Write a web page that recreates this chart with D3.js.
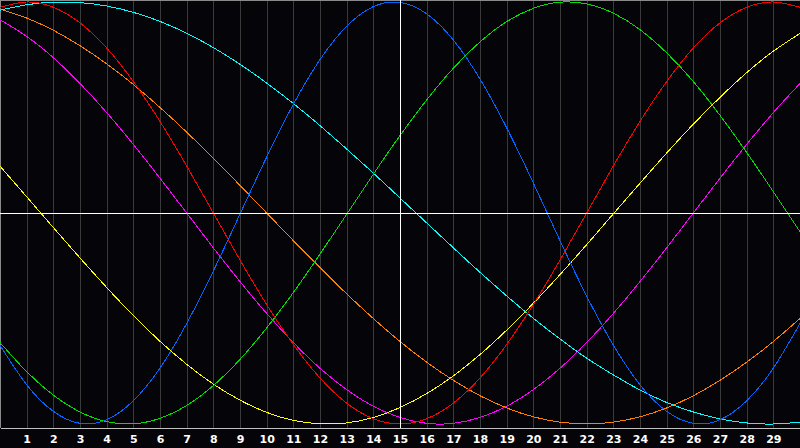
<!DOCTYPE html>
<html>
<head>
<meta charset="utf-8">
<script src="https://cdn.jsdelivr.net/npm/d3@7"></script>
<style>
  html, body { margin: 0; padding: 0; background: #050408; }
  svg { display: block; }
  .tick text { fill: #fff; font-family: "DejaVu Sans", Verdana, sans-serif; font-weight: bold; font-size: 11px; }
</style>
</head>
<body>
<script>
// days shown on the chart
const days = d3.range(0, 31)
const dayLabels = d3.range(1, 30)

// curve values per day (-100 .. 100)
const blue    = [-62.7,-81.4,-94.0,-99.7,-98.0,-89.0,-73.5,-52.4,-27.5,-0.5,26.5,51.5,72.7,88.5,97.8,99.8,94.4,82.0,63.5,40.4,14.2,-13.1,-39.4,-62.6,-81.4,-94.0,-99.7,-98.0,-89.0,-73.5,-52.4]
const red     = [97.5,100,97.5,90.1,78.2,62.3,43.4,22.3,0,-22.3,-43.4,-62.3,-78.2,-90.1,-97.5,-100,-97.5,-90.1,-78.2,-62.3,-43.4,-22.3,0,22.3,43.4,62.3,78.2,90.1,97.5,100,97.5]
const green   = [-61.4,-75.2,-86.3,-94.3,-98.9,-99.9,-97.3,-91.2,-81.8,-69.4,-54.5,-37.7,-19.5,-0.6,18.4,36.7,53.6,68.6,81.1,90.7,97.0,99.9,99.1,94.7,86.9,75.9,62.3,46.3,28.7,10.1,-8.9]
const magenta = [91.6,83.7,73.6,61.4,47.6,32.5,16.5,0,-16.5,-32.5,-47.6,-61.4,-73.6,-83.7,-91.6,-96.9,-99.7,-99.7,-96.9,-91.6,-83.7,-73.6,-61.4,-47.6,-32.5,-16.5,0,16.5,32.5,47.6,61.4]
const yellow  = [22.2,7.7,-6.9,-21.3,-35.3,-48.6,-60.8,-71.7,-81.1,-88.7,-94.5,-98.3,-99.9,-99.5,-96.9,-92.2,-85.6,-77.2,-67.1,-55.5,-42.8,-29.2,-15.0,-0.4,14.1,28.4,42.1,54.8,66.5,76.7,85.1]
const orange  = [96.6,92.4,86.6,79.3,70.7,60.9,50.0,38.3,25.9,13.1,0,-13.1,-25.9,-38.3,-50.0,-60.9,-70.7,-79.3,-86.6,-92.4,-96.6,-99.1,-100,-99.1,-96.6,-92.4,-86.6,-79.3,-70.7,-60.9,-50.0]
const cyan    = [96.1,98.7,99.9,99.7,98.1,95.1,90.8,85.2,78.4,70.5,61.6,51.9,41.4,30.3,18.9,7.1,-4.7,-16.5,-28.1,-39.3,-49.9,-59.7,-68.8,-76.7,-83.9,-89.8,-94.3,-97.6,-99.5,-100,-99.1]

const series = [
  { values: orange,  color: '#ff8000' },
  { values: magenta, color: '#ff00ff' },
  { values: yellow,  color: '#ffff00' },
  { values: cyan,    color: '#00ffff' },
  { values: green,   color: '#00e000' },
  { values: red,     color: '#ff0000' },
  { values: blue,    color: '#0066ff' }
]

let w = 800,
    h = 448,
    plotBottom = 428,
    today = 15

let svg = d3.select('body').append('svg')
    .attr('width', w)
    .attr('height', h)

svg.append('rect')
    .attr('width', w)
    .attr('height', h)
    .attr('fill', '#050408')

let x = d3.scaleLinear().domain([0, 30]).range([0, w])
let y = d3.scaleLinear().domain([-100, 100]).range([424, 2])

// vertical day grid
svg.append('g')
    .selectAll('line')
    .data(dayLabels)
    .enter()
    .append('line')
    .attr('x1', d => Math.round(x(d)) + 0.5)
    .attr('x2', d => Math.round(x(d)) + 0.5)
    .attr('y1', 0)
    .attr('y2', plotBottom)
    .attr('stroke', '#3a3a3a')
    .attr('shape-rendering', 'crispEdges')

// frame
svg.append('line')
    .attr('x1', 0).attr('x2', w).attr('y1', 0.5).attr('y2', 0.5)
    .attr('stroke', '#8a8a8a').attr('shape-rendering', 'crispEdges')
svg.append('line')
    .attr('x1', 0.5).attr('x2', 0.5).attr('y1', 0).attr('y2', plotBottom)
    .attr('stroke', '#8a8a8a').attr('shape-rendering', 'crispEdges')

// curves
let line = d3.line()
    .x((d, i) => x(days[i]))
    .y(d => y(d))
    .curve(d3.curveNatural)

svg.append('g')
    .selectAll('path')
    .data(series)
    .enter()
    .append('path')
    .attr('d', d => line(d.values))
    .attr('fill', 'none')
    .attr('stroke', d => d.color)
    .attr('stroke-width', 1)
    .attr('shape-rendering', 'crispEdges')

// crosshair: zero line and today
svg.append('line')
    .attr('x1', 0).attr('x2', w)
    .attr('y1', Math.round(y(0)) + 0.5).attr('y2', Math.round(y(0)) + 0.5)
    .attr('stroke', '#fff').attr('shape-rendering', 'crispEdges')
svg.append('line')
    .attr('x1', Math.round(x(today)) + 0.5).attr('x2', Math.round(x(today)) + 0.5)
    .attr('y1', 0).attr('y2', plotBottom)
    .attr('stroke', '#fff').attr('shape-rendering', 'crispEdges')

// bottom axis with day numbers
let axis = svg.append('g')
    .attr('transform', 'translate(0,' + plotBottom + ')')
    .call(d3.axisBottom(x).tickValues(dayLabels).tickSize(0).tickPadding(7).tickFormat(d3.format('d')))

axis.select('.domain')
    .attr('stroke', '#c0c0c0')
    .attr('shape-rendering', 'crispEdges')
</script>
</body>
</html>
